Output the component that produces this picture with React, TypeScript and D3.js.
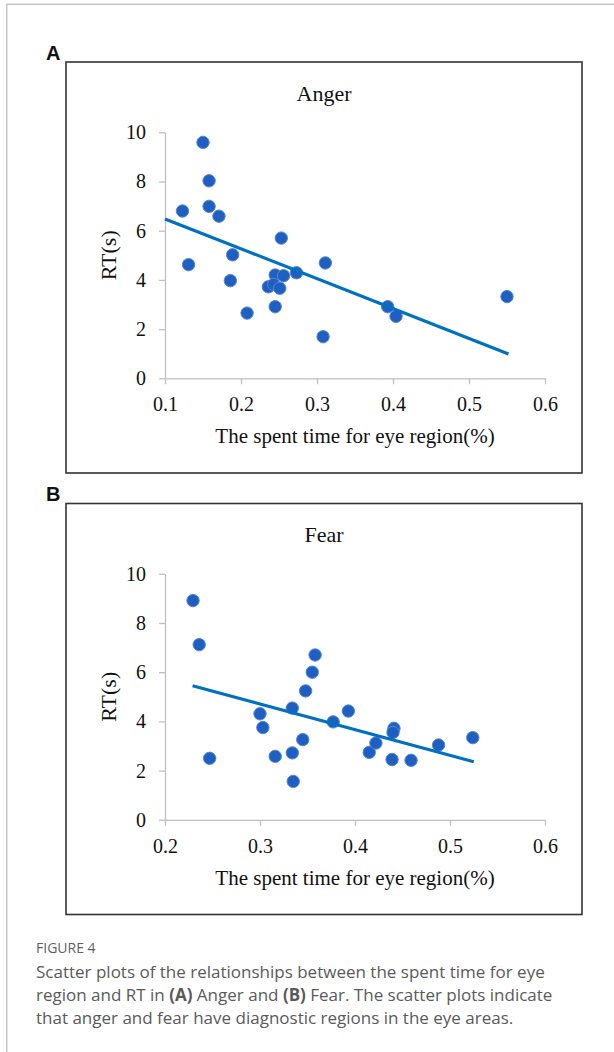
import { useEffect, useRef } from 'react';
import * as d3 from 'd3';

// Panel A - Anger
const angerX = [0.150, 0.158, 0.158, 0.171, 0.123, 0.131, 0.189, 0.186, 0.208, 0.253, 0.236, 0.245, 0.256, 0.243, 0.251, 0.245, 0.273, 0.311, 0.308, 0.393, 0.404, 0.550];
const angerY = [9.59, 8.03, 6.99, 6.59, 6.80, 4.62, 5.02, 3.97, 2.65, 5.70, 3.72, 4.20, 4.17, 3.82, 3.66, 2.91, 4.29, 4.69, 1.69, 2.91, 2.52, 3.32];
const angerTrendX = [0.1, 0.552];
const angerTrendY = [6.48, 0.99];
const angerXTicks = [0.1, 0.2, 0.3, 0.4, 0.5, 0.6];

// Panel B - Fear
const fearX = [0.2295, 0.236, 0.247, 0.300, 0.303, 0.316, 0.334, 0.334, 0.335, 0.345, 0.348, 0.355, 0.358, 0.377, 0.393, 0.415, 0.422, 0.439, 0.441, 0.440, 0.459, 0.488, 0.524];
const fearY = [8.91, 7.12, 2.50, 4.31, 3.75, 2.58, 4.54, 2.72, 1.56, 3.26, 5.24, 6.00, 6.70, 3.98, 4.42, 2.74, 3.12, 2.45, 3.72, 3.55, 2.42, 3.04, 3.34];
const fearTrendX = [0.229, 0.525];
const fearTrendY = [5.45, 2.36];
const fearXTicks = [0.2, 0.3, 0.4, 0.5, 0.6];

const yTicks = [0, 2, 4, 6, 8, 10];
const xTitle = 'The spent time for eye region(%)';
const yTitle = 'RT(s)';

const captionHead = 'FIGURE 4';

const SERIF = '"Liberation Serif", "Times New Roman", serif';
const SANS = '"Open Sans", "Noto Sans", sans-serif';

const drawPanel = (root, opt) => {
  const { top, letter, title, xs, ys, tx, ty, xTicks } = opt;
  const boxL = 66, boxR = 582, boxH = 411;
  const plotL = 165, plotR = 545;
  const plotT = top + 70.3, plotB = top + 316.3;

  root.append('text')
    .attr('x', 46).attr('y', top - 2.5)
    .style('font-family', '"Liberation Sans", Arial, sans-serif')
    .style('font-weight', 'bold')
    .style('font-size', '20px')
    .style('fill', '#111')
    .text(letter);

  root.append('rect')
    .attr('x', boxL).attr('y', top)
    .attr('width', boxR - boxL).attr('height', boxH)
    .style('fill', '#fff')
    .style('stroke', '#333')
    .style('stroke-width', 1.6);

  root.append('text')
    .attr('x', (boxL + boxR) / 2).attr('y', top + 38.7)
    .style('font-family', SERIF).style('font-size', '22px')
    .style('text-anchor', 'middle').style('fill', '#111')
    .text(title);

  const x = d3.scaleLinear().domain([xTicks[0], xTicks[xTicks.length - 1]]).range([plotL, plotR]);
  const y = d3.scaleLinear().domain([0, 10]).range([plotB, plotT]);

  const gx = root.append('g').attr('transform', `translate(0,${plotB})`)
    .call(d3.axisBottom(x).tickValues(xTicks).tickFormat(d3.format('.1f')).tickSize(6).tickSizeOuter(0).tickPadding(12.8));
  const gy = root.append('g').attr('transform', `translate(${plotL},0)`)
    .call(d3.axisLeft(y).tickValues(yTicks).tickSize(6).tickSizeOuter(0).tickPadding(13));
  [gx, gy].forEach(g => {
    g.select('.domain').style('stroke', '#bfbfbf').style('stroke-width', 1.3);
    g.selectAll('.tick line').style('stroke', '#bfbfbf').style('stroke-width', 1.3);
    g.selectAll('.tick text')
      .style('font-family', SERIF).style('font-size', '20px').style('fill', '#111');
  });

  root.append('text')
    .attr('x', (plotL + plotR) / 2).attr('y', top + 381.3)
    .style('font-family', SERIF).style('font-size', '21px')
    .style('text-anchor', 'middle').style('fill', '#111')
    .text(xTitle);

  root.append('text')
    .attr('transform', `translate(116,${(plotT + plotB) / 2}) rotate(-90)`)
    .style('font-family', SERIF).style('font-size', '22px')
    .style('text-anchor', 'middle').style('fill', '#111')
    .text(yTitle);

  const pts = xs.map((d, i) => [d, ys[i]]);
  root.append('g').selectAll('circle')
    .data(pts)
    .enter()
    .append('circle')
    .attr('cx', d => x(d[0]))
    .attr('cy', d => y(d[1]))
    .attr('r', 6.2)
    .style('fill', '#1f5fc2')
    .style('stroke', '#5288d6')
    .style('stroke-width', 1);

  const line = d3.line().x(d => x(d[0])).y(d => y(d[1]));
  root.append('path')
    .attr('d', line(tx.map((d, i) => [d, ty[i]])))
    .style('fill', 'none')
    .style('stroke', '#0070c0')
    .style('stroke-width', 3.2);
};

const App = () => {
  const svgRef = useRef(null);

  useEffect(() => {
    const svg = d3.select(svgRef.current);
    svg.selectAll('*').remove();

    // page frame
    svg.append('path')
      .attr('d', 'M6.7,1052V4.3H614')
      .style('fill', 'none')
      .style('stroke', '#c4c4c4')
      .style('stroke-width', 1.5);

    drawPanel(svg, { top: 62, letter: 'A', title: 'Anger', xs: angerX, ys: angerY, tx: angerTrendX, ty: angerTrendY, xTicks: angerXTicks });
    drawPanel(svg, { top: 503.5, letter: 'B', title: 'Fear', xs: fearX, ys: fearY, tx: fearTrendX, ty: fearTrendY, xTicks: fearXTicks });

    svg.append('text')
      .attr('x', 36).attr('y', 953)
      .style('font-family', SANS).style('font-size', '14px')
      .style('fill', '#5f5f5f')
      .text(captionHead);

    const cap = svg.append('text')
      .style('font-family', SANS).style('font-size', '17px')
      .style('fill', '#5a5a5a');
    const line1 = cap.append('tspan').attr('x', 36).attr('y', 977.5);
    line1.text('Scatter plots of the relationships between the spent time for eye');
    const line2 = cap.append('tspan').attr('x', 36).attr('y', 1000.5);
    line2.append('tspan').text('region and RT in ');
    line2.append('tspan').style('font-weight', 'bold').text('(A)');
    line2.append('tspan').text(' Anger and ');
    line2.append('tspan').style('font-weight', 'bold').text('(B)');
    line2.append('tspan').text(' Fear. The scatter plots indicate');
    cap.append('tspan').attr('x', 36).attr('y', 1023.5)
      .text('that anger and fear have diagnostic regions in the eye areas.');
  }, []);

  return (
    <svg ref={svgRef} width={614} height={1052}
      style={{ position: 'absolute', left: 0, top: 0, background: '#fff' }} />
  );
};

export default App;
